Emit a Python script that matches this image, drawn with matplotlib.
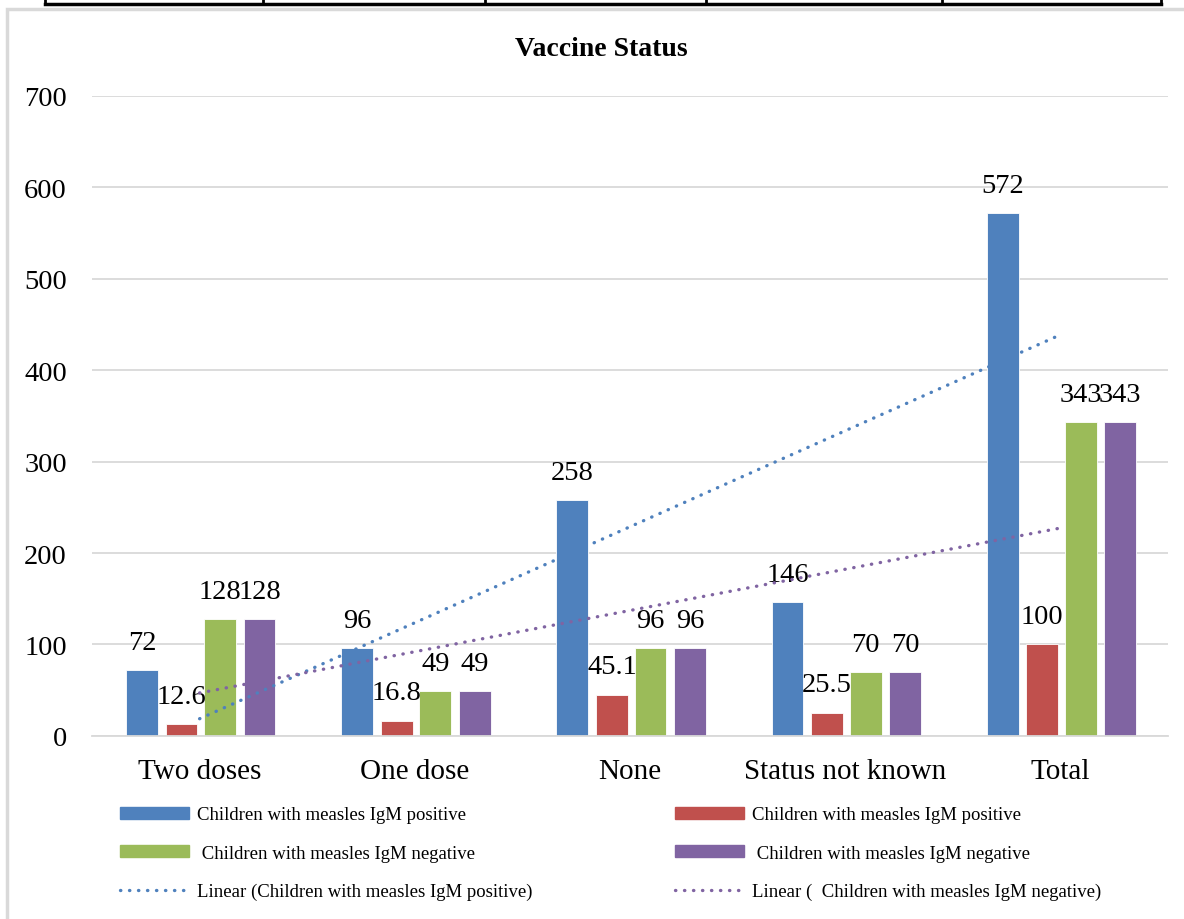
import matplotlib
matplotlib.use("Agg")
import matplotlib.pyplot as plt
import numpy as np
from matplotlib.patches import Patch, Rectangle
from matplotlib.lines import Line2D

categories = ["Two doses", "One dose", "None", "Status not known", "Total"]
igm_pos_n = [72, 96, 258, 146, 572]
igm_pos_pct = [12.6, 16.8, 45.1, 25.5, 100]
igm_neg_n = [128, 49, 96, 70, 343]
igm_neg_pct = [128, 49, 96, 70, 343]
series_labels = ["Children with measles IgM positive",
                 "Children with measles IgM positive",
                 " Children with measles IgM negative",
                 " Children with measles IgM negative"]
trend_labels = ["Linear (Children with measles IgM positive)",
                "Linear (  Children with measles IgM negative)"]
colors = ["#4F81BD", "#C0504D", "#9BBB59", "#8064A2"]

plt.rcParams["font.family"] = ["Liberation Serif", "DejaVu Serif"]

fig = plt.figure(figsize=(11.84, 9.2), dpi=100)
ax = fig.add_axes([0.0777, 0.199, 0.9088, 0.6956])

x = np.arange(len(categories))
offsets = [-0.268, -0.084, 0.095, 0.278]
width = 0.148
series = [igm_pos_n, igm_pos_pct, igm_neg_n, igm_neg_pct]
for vals, off, c in zip(series, offsets, colors):
    bars = ax.bar(x + off, vals, width, color=c, edgecolor="white", linewidth=0.6, zorder=2)
    ax.bar_label(bars, labels=[f"{v:g}" for v in vals], padding=11, fontsize=20.5)

# linear trend lines (least squares over categories)
dot = (0, (0.1, 2.6))
for vals, c in [(igm_pos_n, colors[0]), (igm_neg_n, colors[3])]:
    k, b = np.polyfit(x + 1, vals, 1)
    ax.plot(x, k * (x + 1) + b, color=c, lw=2.4, linestyle=dot,
            dash_capstyle="round", zorder=3)

ax.set_xlim(-0.5, 4.5)
ax.set_ylim(0, 700)
ax.set_yticks(range(0, 701, 100))
ax.set_xticks(x)
ax.set_xticklabels(categories, fontsize=21)
ax.tick_params(axis="y", labelsize=20.5, length=0, pad=18)
ax.tick_params(axis="x", length=0, pad=16)
ax.grid(axis="y", color="#D9D9D9", lw=1.3, zorder=0)
ax.set_axisbelow(True)
for s in ["left", "right", "top"]:
    ax.spines[s].set_visible(False)
ax.spines["bottom"].set_color("#D9D9D9")
ax.spines["bottom"].set_linewidth(1.3)

fig.text(0.508, 0.946, "Vaccine Status", ha="center", va="center",
         fontsize=20, fontweight="bold")

handles = [Patch(color=colors[0], label=series_labels[0]),
           Patch(color=colors[2], label=series_labels[2]),
           Line2D([], [], color=colors[0], lw=2.4, linestyle=dot,
                  dash_capstyle="round", label=trend_labels[0]),
           Patch(color=colors[1], label=series_labels[1]),
           Patch(color=colors[3], label=series_labels[3]),
           Line2D([], [], color=colors[3], lw=2.4, linestyle=dot,
                  dash_capstyle="round", label=trend_labels[1])]
fig.legend(handles=handles, ncol=2, loc="upper left",
           bbox_to_anchor=(0.1014, 0.1226), frameon=False, fontsize=13.5,
           handlelength=3.7, handleheight=0.6, handletextpad=0.4,
           labelspacing=1.14, columnspacing=7.6, borderpad=0, borderaxespad=0)

# chart frame and table border above it
fig.add_artist(Rectangle((7 / 1184, -0.05), 1.1, 1 - 10 / 920 + 0.05,
                         transform=fig.transFigure, fill=False,
                         edgecolor="#D9D9D9", lw=2.5))
ytop = 1 - 5 / 920
fig.add_artist(Line2D([45 / 1184, 1161 / 1184], [ytop, ytop],
                      transform=fig.transFigure, color="black", lw=2.5))
for xv in [45, 263, 485, 706, 942, 1161]:
    fig.add_artist(Line2D([xv / 1184, xv / 1184], [ytop, 1.0],
                          transform=fig.transFigure, color="black", lw=2))

fig.savefig("out.png", dpi=100)
